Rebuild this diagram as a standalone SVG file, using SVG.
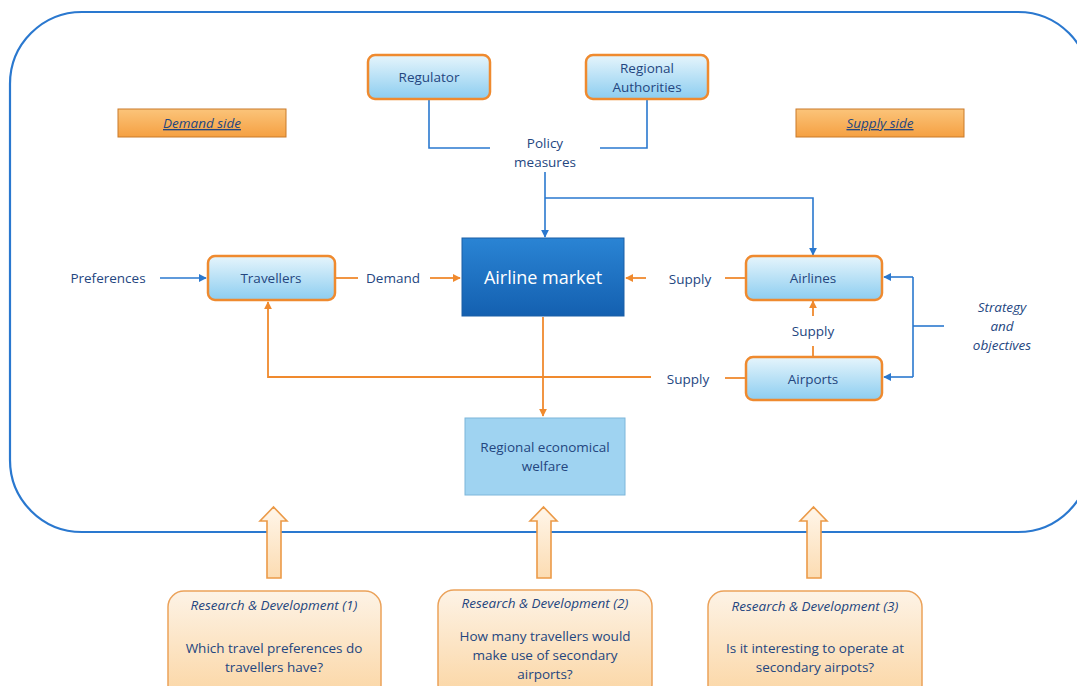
<svg xmlns="http://www.w3.org/2000/svg" width="1077" height="686" viewBox="0 0 1077 686">
  <defs>
    <linearGradient id="nodeFill" x1="0" y1="0" x2="0" y2="1">
      <stop offset="0" stop-color="#e6f5fc"/>
      <stop offset="1" stop-color="#8ccdf0"/>
    </linearGradient>
    <linearGradient id="marketFill" x1="0" y1="0" x2="0" y2="1">
      <stop offset="0" stop-color="#2a84d4"/>
      <stop offset="1" stop-color="#1460b0"/>
    </linearGradient>
    <linearGradient id="sideFill" x1="0" y1="0" x2="0" y2="1">
      <stop offset="0" stop-color="#fbc47a"/>
      <stop offset="1" stop-color="#f5a042"/>
    </linearGradient>
    <linearGradient id="rdFill" x1="0" y1="0" x2="0" y2="1">
      <stop offset="0" stop-color="#fdf3e6"/>
      <stop offset="1" stop-color="#fbd5a2"/>
    </linearGradient>
    <linearGradient id="bigArrowFill" x1="0" y1="0" x2="0" y2="1">
      <stop offset="0" stop-color="#fff6ea"/>
      <stop offset="1" stop-color="#fcdcb2"/>
    </linearGradient>
    <marker id="arrBlue" viewBox="0 0 10 10" refX="9" refY="5" markerWidth="8" markerHeight="8" markerUnits="userSpaceOnUse" orient="auto">
      <path d="M0,0 L10,5 L0,10 z" fill="#2a78cf"/>
    </marker>
    <marker id="arrOrange" viewBox="0 0 10 10" refX="9" refY="5" markerWidth="8" markerHeight="8" markerUnits="userSpaceOnUse" orient="auto">
      <path d="M0,0 L10,5 L0,10 z" fill="#f08a2e"/>
    </marker>
  </defs>
  <style>
    text { font-family: "Open Sans", "Liberation Sans", sans-serif; fill: #24467f; }
    .lbl { font-size: 13.5px; text-anchor: middle; }
    .it { font-style: italic; }
    .node { fill: url(#nodeFill); stroke: #ef8a2f; stroke-width: 2.5; }
    .blue { fill: none; stroke: #2a78cf; stroke-width: 1.6; }
    .orange { fill: none; stroke: #f08a2e; stroke-width: 1.8; }
    .side { fill: url(#sideFill); stroke: #c97a2a; stroke-width: 1; }
    .rd { fill: url(#rdFill); stroke: #eba25a; stroke-width: 1.5; }
    .big { fill: url(#bigArrowFill); stroke: #eb9a48; stroke-width: 1.6; }
  </style>

  <rect width="1077" height="686" fill="#ffffff"/>

  <!-- system boundary -->
  <rect id="boundary" x="10" y="12" width="1080" height="520" rx="72" ry="72" fill="none" stroke="#2a78cf" stroke-width="2.2"/>

  <!-- side banners -->
  <g id="demand-side">
    <rect class="side" x="118" y="109" width="168" height="28"/>
    <text class="lbl it" x="202" y="128" text-decoration="underline">Demand side</text>
  </g>
  <g id="supply-side">
    <rect class="side" x="796" y="109" width="168" height="28"/>
    <text class="lbl it" x="880" y="128" text-decoration="underline">Supply side</text>
  </g>

  <!-- connectors -->
  <g id="connectors">
    <!-- policy -->
    <polyline class="blue" points="429,99 429,148 490,148"/>
    <polyline class="blue" points="647,99 647,148 600,148"/>
    <line class="blue" x1="545" y1="172" x2="545" y2="237" marker-end="url(#arrBlue)"/>
    <polyline class="blue" points="545,198 813,198 813,255" marker-end="url(#arrBlue)"/>
    <!-- demand -->
    <line class="blue" x1="160" y1="278" x2="206" y2="278" marker-end="url(#arrBlue)"/>
    <line class="orange" x1="336" y1="278" x2="358" y2="278"/>
    <line class="orange" x1="430" y1="278" x2="460" y2="278" marker-end="url(#arrOrange)"/>
    <!-- supply to market -->
    <line class="orange" x1="746" y1="278" x2="725" y2="278"/>
    <line class="orange" x1="646" y1="278" x2="626" y2="278" marker-end="url(#arrOrange)"/>
    <!-- airports to airlines -->
    <line class="orange" x1="813" y1="357" x2="813" y2="346"/>
    <line class="orange" x1="813" y1="316" x2="813" y2="301" marker-end="url(#arrOrange)"/>
    <!-- airports to travellers -->
    <line class="orange" x1="746" y1="378" x2="725" y2="378"/>
    <polyline class="orange" points="651,377 268,377 268,302" marker-end="url(#arrOrange)"/>
    <!-- market to welfare -->
    <line class="orange" x1="543" y1="317" x2="543" y2="416" marker-end="url(#arrOrange)"/>
    <!-- strategy -->
    <polyline class="blue" points="913,277 913,377"/>
    <line class="blue" x1="913" y1="277" x2="884" y2="277" marker-end="url(#arrBlue)"/>
    <line class="blue" x1="913" y1="377" x2="884" y2="377" marker-end="url(#arrBlue)"/>
    <line class="blue" x1="913" y1="326" x2="944" y2="326"/>
  </g>

  <!-- connector labels -->
  <g id="labels">
    <text class="lbl" x="545" y="148">Policy</text>
    <text class="lbl" x="545" y="167">measures</text>
    <text class="lbl" x="108" y="283">Preferences</text>
    <text class="lbl" x="393" y="283">Demand</text>
    <text class="lbl" x="690" y="284">Supply</text>
    <text class="lbl" x="813" y="336">Supply</text>
    <text class="lbl" x="688" y="384">Supply</text>
    <text class="lbl it" x="1002" y="312">Strategy</text>
    <text class="lbl it" x="1002" y="331">and</text>
    <text class="lbl it" x="1002" y="350">objectives</text>
  </g>

  <g id="regulator">
    <rect class="node" x="368" y="55" width="122" height="44" rx="7"/>
    <text class="lbl" x="429" y="82">Regulator</text>
  </g>
  <g id="regional-authorities">
    <rect class="node" x="586" y="55" width="122" height="44" rx="7"/>
    <text class="lbl" x="647" y="73">Regional</text>
    <text class="lbl" x="647" y="92">Authorities</text>
  </g>
  <g id="travellers">
    <rect class="node" x="208" y="256" width="127" height="44" rx="7"/>
    <text class="lbl" x="271" y="283">Travellers</text>
  </g>
  <g id="airline-market">
    <rect x="462" y="238" width="162" height="78" fill="url(#marketFill)" stroke="#1a5ea6" stroke-width="1"/>
    <text x="543" y="284" font-size="18" text-anchor="middle" style="fill:#ffffff">Airline market</text>
  </g>
  <g id="airlines">
    <rect class="node" x="746" y="256" width="136" height="44" rx="7"/>
    <text class="lbl" x="813" y="283">Airlines</text>
  </g>
  <g id="airports">
    <rect class="node" x="746" y="357" width="136" height="43" rx="7"/>
    <text class="lbl" x="813" y="384">Airports</text>
  </g>
  <g id="welfare">
    <rect x="465" y="418" width="160" height="77" fill="#9fd3f1" stroke="#7db6da" stroke-width="1"/>
    <text class="lbl" x="545" y="452">Regional economical</text>
    <text class="lbl" x="545" y="471">welfare</text>
  </g>

  <!-- research inputs -->
  <g id="rd-arrows">
    <path class="big" d="M267,578 L267,521 L260,521 L273.5,507 L287,521 L281,521 L281,578 Z"/>
    <path class="big" d="M537,578 L537,521 L530,521 L543.5,507 L557,521 L551,521 L551,578 Z"/>
    <path class="big" d="M807,578 L807,521 L800,521 L813.5,507 L827,521 L821,521 L821,578 Z"/>
  </g>
  <g id="rd1">
    <rect class="rd" x="168" y="591" width="213" height="110" rx="16"/>
    <text class="lbl it" x="274" y="610">Research &amp; Development (1)</text>
    <text class="lbl" x="274" y="653">Which travel preferences do</text>
    <text class="lbl" x="274" y="672">travellers have?</text>
  </g>
  <g id="rd2">
    <rect class="rd" x="438" y="590" width="214" height="110" rx="16"/>
    <text class="lbl it" x="545" y="608">Research &amp; Development (2)</text>
    <text class="lbl" x="545" y="641">How many travellers would</text>
    <text class="lbl" x="545" y="660">make use of secondary</text>
    <text class="lbl" x="545" y="679">airports?</text>
  </g>
  <g id="rd3">
    <rect class="rd" x="708" y="591" width="214" height="110" rx="16"/>
    <text class="lbl it" x="815" y="611">Research &amp; Development (3)</text>
    <text class="lbl" x="815" y="653">Is it interesting to operate at</text>
    <text class="lbl" x="815" y="672">secondary airpots?</text>
  </g>
</svg>
